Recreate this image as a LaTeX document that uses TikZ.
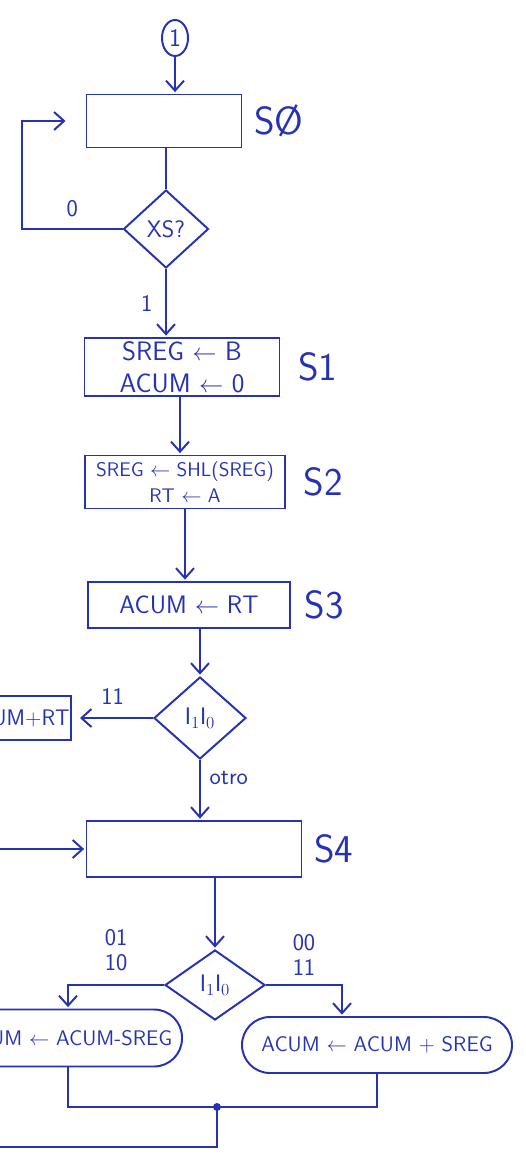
\documentclass[tikz,border=0pt]{standalone}
\usetikzlibrary{positioning, calc, arrows.meta, shapes.geometric}
\definecolor{ink}{RGB}{38,50,180}
\tikzset{
  > = {Straight Barb[length = 2.5mm, width = 4.5mm]},
  flow/.style = {->, shorten > = 1pt},
  asmbox/.style = {draw, align = center, inner sep = 1pt,
    font = \sffamily\fontsize{19}{23}\selectfont},
  asmcond/.style = {asmbox, rounded corners = 7mm,
    font = \sffamily\fontsize{15}{18}\selectfont},
  asmdecision/.style = {draw, diamond, inner sep = 0pt,
    font = \sffamily\fontsize{17}{20}\selectfont},
  asmname/.style = {font = \sffamily\fontsize{28}{30}\selectfont},
  asmlabel/.style = {align = center, font = \sffamily\fontsize{17}{18}\selectfont},
  connector/.style = {draw, ellipse, inner sep = 0pt,
    minimum width = 6.5mm, minimum height = 9mm, font = \sffamily\fontsize{18}{20}\selectfont}
}

\begin{document}
\begin{tikzpicture}[x = 0.25mm, y = -0.25mm, color = ink, line width = 1.4pt]

\path [use as bounding box, clip] (0,0) rectangle (525,1157);

%% Entry and S0
\node [connector] (c1) at (175,38) {1};
\node [asmbox, minimum width = 38.75mm, minimum height = 13.25mm] (s0) at (164,121) {};
\node [asmname, right = 1.5mm of s0] (n0) {S\O};
\draw [flow] (c1) -- (c1 |- s0.north);

\node [asmdecision, minimum width = 21.25mm, minimum height = 19.5mm] (xs) at (166,229) {XS?};
\coordinate (loop) at (22,229);
\draw (s0.south -| xs.north) -- (xs.north);
\draw [flow, shorten > = 5mm] (xs.west) -- node [asmlabel, above = 1.5mm] {0} (loop) |- (s0.west);

%% S1, S2, S3
\node [asmbox, minimum width = 48.75mm, minimum height = 14.5mm] (s1) at (182,367)
  {SREG $\leftarrow$ B\\ACUM $\leftarrow$ 0};
\node [asmname, right = 3mm of s1] (n1) {S1};
\draw [flow] (xs.south) -- node [asmlabel, left = 2mm] {1} (xs.south |- s1.north);

\node [asmbox, minimum width = 50mm, minimum height = 13.25mm,
  font = \sffamily\fontsize{14}{18}\selectfont] (s2) at (185,482)
  {SREG $\leftarrow$ SHL(SREG)\\RT $\leftarrow$ A};
\node [asmname, right = 3mm of s2] (n2) {S2};
\draw [flow] (s1.south -| 180,0) -- (s2.north -| 180,0);

\node [asmbox, minimum width = 50.5mm, minimum height = 11.5mm,
  font = \sffamily\fontsize{18}{22}\selectfont] (s3) at (189,605) {ACUM $\leftarrow$ RT};
\node [asmname, right = 2mm of s3] (n3) {S3};
\draw [flow] (s2.south) -- (s2.south |- s3.north);

%% First test
\node [asmdecision, minimum width = 23mm, minimum height = 20.5mm] (ii1) at (200,718) {I$_1$I$_0$};
\draw [flow] (s3.south -| ii1.north) -- (ii1.north);

\node [asmbox, anchor = east, minimum height = 11mm,
  font = \sffamily\fontsize{16}{20}\selectfont] (addrt) at (72,718) {ACUM $\leftarrow$ ACUM+RT};
\draw [flow, shorten > = 2mm] (ii1.west) -- node [asmlabel, above = 2mm] {11} (addrt.east);

%% S4
\node [asmbox, minimum width = 53.75mm, minimum height = 14mm] (s4) at (194,849) {};
\node [asmname, right = 1.5mm of s4] (n4) {S4};
\draw [flow] (ii1.south) -- node [asmlabel, right = 1mm, pos = 0.3] {otro} (ii1.south |- s4.north);
\coordinate (s4in) at (-10,849);
\draw [flow] (s4in) -- (s4.west);

%% Second test
\node [asmdecision, minimum width = 25mm, minimum height = 17.5mm] (ii2) at (215,985) {I$_1$I$_0$};
\draw [flow] (s4.south -| ii2.north) -- (ii2.north);

\node [asmcond, minimum width = 57mm, minimum height = 14.25mm] (sub) at (68,1038)
  {ACUM $\leftarrow$ ACUM-SREG};
\node [asmcond, minimum width = 67.5mm, minimum height = 14mm] (add) at (377,1045)
  {ACUM $\leftarrow$ ACUM + SREG};

\draw [flow] (ii2.west) -| node [asmlabel, pos = 0.25, above = 2mm] {01\\10} (sub.north);
\draw [flow] (ii2.east) -| node [asmlabel, pos = 0.25, above = 1mm] {00\\11}
  ([xshift = -8.75mm] add.north);

%% Join
\coordinate (join) at (217,1107);
\coordinate (exit) at (-10,1147);
\draw (sub.south) |- (join) -| (add.south);
\fill (join) circle [radius = 1mm];
\draw (join) |- (exit);

\end{tikzpicture}
\end{document}
